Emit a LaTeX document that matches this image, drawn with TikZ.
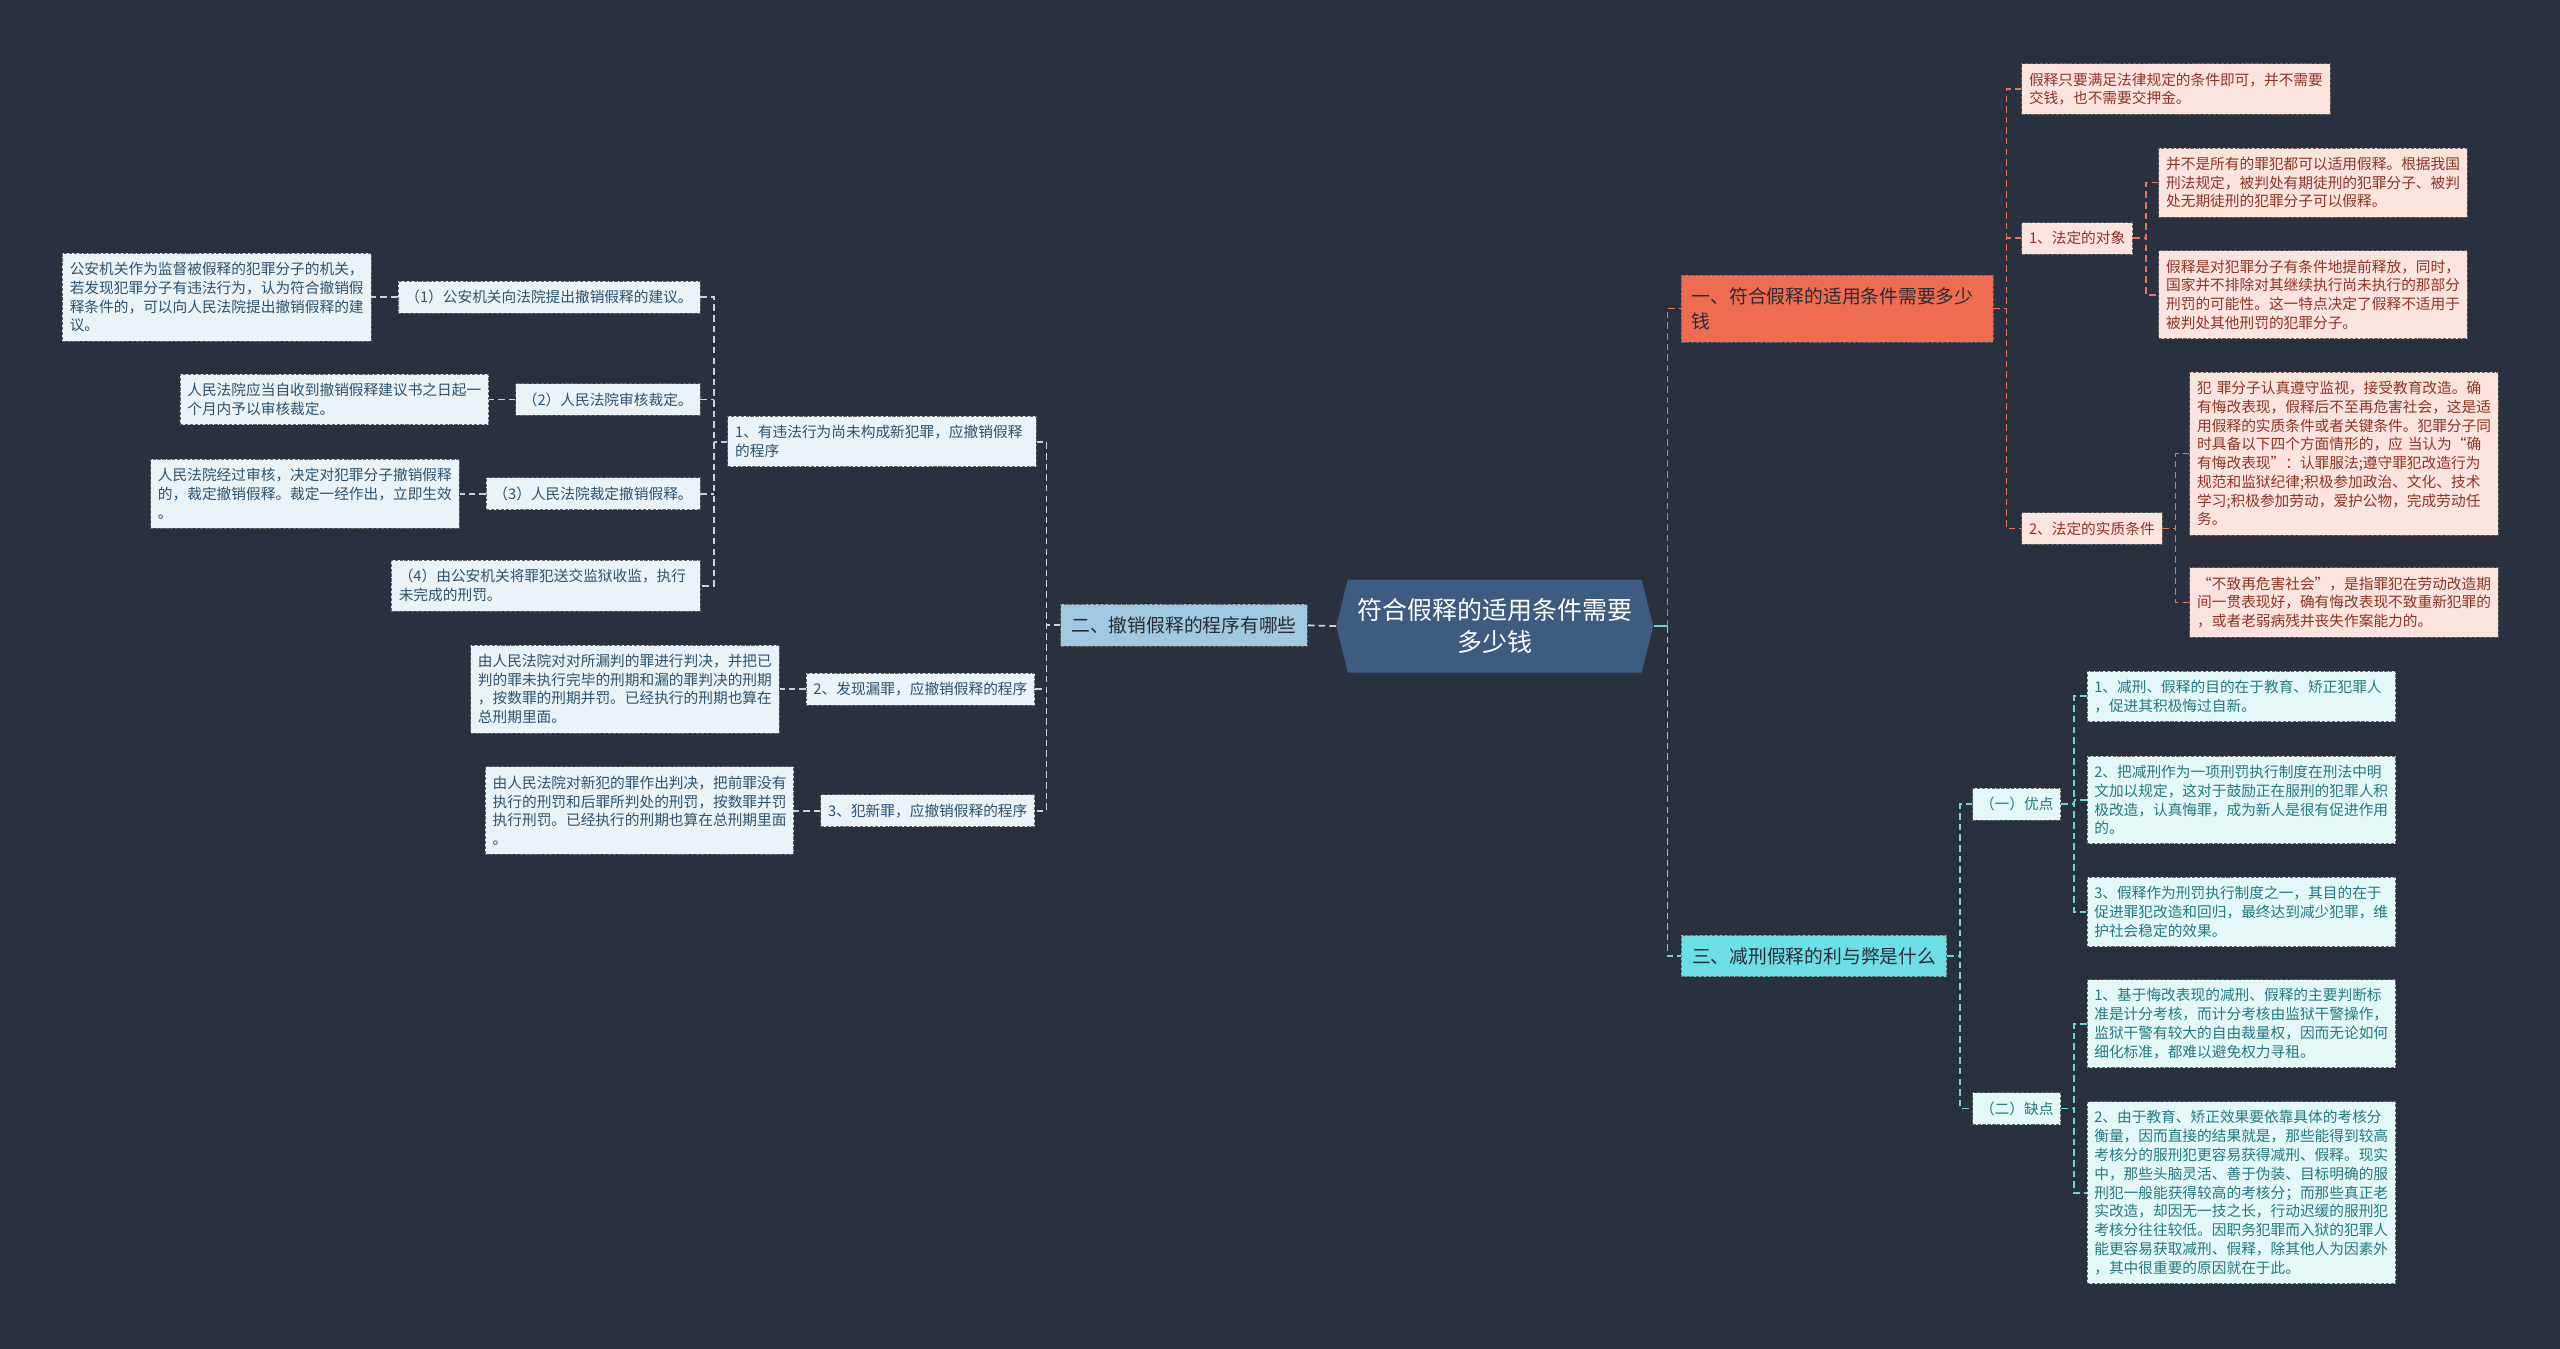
\documentclass[tikz,border=0pt]{standalone}
\usepackage{fontspec}
\setmainfont{Noto Sans CJK SC}
\usepackage{tikz}
\usetikzlibrary{positioning, shapes.symbols}

\definecolor{bgdark}{RGB}{41,49,63}
\definecolor{rootfill}{RGB}{62,91,128}
\definecolor{topO}{RGB}{238,108,82}
\definecolor{topB}{RGB}{160,200,225}
\definecolor{topC}{RGB}{108,222,228}
\definecolor{leafO}{RGB}{252,228,222}
\definecolor{leafB}{RGB}{234,243,248}
\definecolor{leafC}{RGB}{228,248,248}
\definecolor{textO}{RGB}{140,52,36}
\definecolor{textB}{RGB}{44,82,112}
\definecolor{textC}{RGB}{36,121,126}
\definecolor{textTop}{RGB}{40,44,52}
\definecolor{lnO}{RGB}{232,116,92}
\definecolor{lnB}{RGB}{196,212,226}
\definecolor{lnC}{RGB}{108,210,220}

\begin{document}
\begin{tikzpicture}[x=1pt, y=-1pt,
	box/.style={rectangle, draw=black!60, dash pattern=on 2pt off 1pt, line width=0.5pt, inner xsep=4.5pt, inner ysep=5.5pt, align=left, font=\fontsize{9}{11.5}\selectfont},
	para/.style={text width=180pt},
	leafo/.style={box, fill=leafO, text=textO},
	leafb/.style={box, fill=leafB, text=textB},
	leafc/.style={box, fill=leafC, text=textC},
	topbox/.style={box, inner xsep=6.5pt, inner ysep=7.5pt, text=textTop, font=\fontsize{11.5}{15.3}\selectfont},
	rootbox/.style={signal, signal to=west and east, signal pointer angle=152, fill=rootfill, text=white, align=center, text width=172pt, inner xsep=4pt, minimum height=57pt, font=\fontsize{15.3}{20}\selectfont},
	lineo/.style={draw=lnO, line width=1.1pt, dash pattern=on 4pt off 2.5pt},
	lineb/.style={draw=lnB, line width=1.1pt, dash pattern=on 4pt off 2.5pt},
	linec/.style={draw=lnC, line width=1.1pt, dash pattern=on 4pt off 2.5pt}]
				\useasboundingbox (0,0) rectangle (1568,826);
				\fill[bgdark] (0,0) rectangle (1568,826);

				\node[rootbox] (root) at (915.5,383.5) {符合假释的适用条件需要\\多少钱};

				\node[topbox, fill=topO, text width=178pt, anchor=west] (b1) at (1029.5,189) {一、符合假释的适用条件需要多少\\钱};
				\node[leafo, anchor=west] (b1a) at (1238,54.5) {假释只要满足法律规定的条件即可，并不需要\\交钱，也不需要交押金。};
				\node[leafo, anchor=west] (b1b) at (1238,146) {1、法定的对象};
				\node[leafo, anchor=west] (b1c) at (1238,323.7) {2、法定的实质条件};
				\node[leafo, para, anchor=west] (b1b1) at (1322,111.8) {并不是所有的罪犯都可以适用假释。根据我国\\刑法规定，被判处有期徒刑的犯罪分子、被判\\处无期徒刑的犯罪分子可以假释。};
				\node[leafo, para, anchor=west] (b1b2) at (1322,180.5) {假释是对犯罪分子有条件地提前释放，同时，\\国家并不排除对其继续执行尚未执行的那部分\\刑罚的可能性。这一特点决定了假释不适用于\\被判处其他刑罚的犯罪分子。};
				\node[leafo, para, anchor=west] (b1c1) at (1341,277.8) {犯 罪分子认真遵守监视，接受教育改造。确\\有悔改表现，假释后不至再危害社会，这是适\\用假释的实质条件或者关键条件。犯罪分子同\\时具备以下四个方面情形的，应 当认为“确\\有悔改表现”：认罪服法;遵守罪犯改造行为\\规范和监狱纪律;积极参加政治、文化、技术\\学习;积极参加劳动，爱护公物，完成劳动任\\务。};
				\node[leafo, para, anchor=west] (b1c2) at (1341,369) {“不致再危害社会”，是指罪犯在劳动改造期\\间一贯表现好，确有悔改表现不致重新犯罪的\\，或者老弱病残并丧失作案能力的。};

				\node[topbox, fill=topC, anchor=west] (b3) at (1029.6,585.5) {三、减刑假释的利与弊是什么};
				\node[leafc, anchor=west] (b3a) at (1208,492.5) {（一）优点};
				\node[leafc, anchor=west] (b3b) at (1208,679) {（二）缺点};
				\node[leafc, para, anchor=west] (b3a1) at (1278,426.5) {1、减刑、假释的目的在于教育、矫正犯罪人\\，促进其积极悔过自新。};
				\node[leafc, para, anchor=west] (b3a2) at (1278,490) {2、把减刑作为一项刑罚执行制度在刑法中明\\文加以规定，这对于鼓励正在服刑的犯罪人积\\极改造，认真悔罪，成为新人是很有促进作用\\的。};
				\node[leafc, para, anchor=west] (b3a3) at (1278,558.6) {3、假释作为刑罚执行制度之一，其目的在于\\促进罪犯改造和回归，最终达到减少犯罪，维\\护社会稳定的效果。};
				\node[leafc, para, anchor=west] (b3b1) at (1278,627) {1、基于悔改表现的减刑、假释的主要判断标\\准是计分考核，而计分考核由监狱干警操作，\\监狱干警有较大的自由裁量权，因而无论如何\\细化标准，都难以避免权力寻租。};
				\node[leafc, para, anchor=west] (b3b2) at (1278,730.5) {2、由于教育、矫正效果要依靠具体的考核分\\衡量，因而直接的结果就是，那些能得到较高\\考核分的服刑犯更容易获得减刑、假释。现实\\中，那些头脑灵活、善于伪装、目标明确的服\\刑犯一般能获得较高的考核分；而那些真正老\\实改造，却因无一技之长，行动迟缓的服刑犯\\考核分往往较低。因职务犯罪而入狱的犯罪人\\能更容易获取减刑、假释，除其他人为因素外\\，其中很重要的原因就在于此。};

				\node[topbox, fill=topB, anchor=east] (b2) at (801,383) {二、撤销假释的程序有哪些};
				\node[leafb, para, anchor=east] (b2a) at (635,270.5) {1、有违法行为尚未构成新犯罪，应撤销假释\\的程序};
				\node[leafb, anchor=east] (b2b) at (634,422) {2、发现漏罪，应撤销假释的程序};
				\node[leafb, anchor=east] (b2c) at (634,496.5) {3、犯新罪，应撤销假释的程序};
				\node[leafb, anchor=east] (b2a1) at (429,182) {（1）公安机关向法院提出撤销假释的建议。};
				\node[leafb, anchor=east] (b2a2) at (429,244.7) {（2）人民法院审核裁定。};
				\node[leafb, anchor=east] (b2a3) at (429,302.5) {（3）人民法院裁定撤销假释。};
				\node[leafb, para, anchor=east] (b2a4) at (429,358.7) {（4）由公安机关将罪犯送交监狱收监，执行\\未完成的刑罚。};
				\node[leafb, para, left=16pt of b2a1] (l1) {公安机关作为监督被假释的犯罪分子的机关，\\若发现犯罪分子有违法行为，认为符合撤销假\\释条件的，可以向人民法院提出撤销假释的建\\议。};
				\node[leafb, para, left=16pt of b2a2] (l2) {人民法院应当自收到撤销假释建议书之日起一\\个月内予以审核裁定。};
				\node[leafb, para, left=16pt of b2a3] (l3) {人民法院经过审核，决定对犯罪分子撤销假释\\的，裁定撤销假释。裁定一经作出，立即生效\\。};
				\node[leafb, para, left=16pt of b2b] (l5) {由人民法院对对所漏判的罪进行判决，并把已\\判的罪未执行完毕的刑期和漏的罪判决的刑期\\，按数罪的刑期并罚。已经执行的刑期也算在\\总刑期里面。};
				\node[leafb, para, left=16pt of b2c] (l6) {由人民法院对新犯的罪作出判决，把前罪没有\\执行的刑罚和后罪所判处的刑罚，按数罪并罚\\执行刑罚。已经执行的刑期也算在总刑期里面\\。};

				\draw[draw=lnC, line width=1.1pt] (root.east) -- ++(8.5,0) coordinate (j0);
				\draw[lineo] (j0) |- (b1.west);
				\draw[linec] (j0) |- (b3.west);
				\draw[lineb] (root.west) -- (b2.east);

				\draw[lineo] (b1.east) -- ++(8,0) coordinate (j1);
				\draw[lineo] (b1a.west) -| (j1) |- (b1c.west);
				\draw[lineo] (b1b.west) -- (b1b.west -| j1);
				\draw[lineo] (b1b.east) -- ++(8,0) coordinate (j1b);
				\draw[lineo] (b1b1.west) -| (j1b) |- (b1b2.west);
				\draw[lineo] (b1c.east) -- ++(8,0) coordinate (j1c);
				\draw[lineo] (b1c1.west) -| (j1c) |- (b1c2.west);

				\draw[linec] (b3.east) -- ++(8,0) coordinate (j3);
				\draw[linec] (b3a.west) -| (j3) |- (b3b.west);
				\draw[linec] (b3a.east) -- ++(8,0) coordinate (j3a);
				\draw[linec] (b3a1.west) -| (j3a) |- (b3a3.west);
				\draw[linec] (b3a2.west) -- (b3a2.west -| j3a);
				\draw[linec] (b3b.east) -- ++(8,0) coordinate (j3b);
				\draw[linec] (b3b1.west) -| (j3b) |- (b3b2.west);

				\draw[lineb] (b2.west) -- ++(-8.5,0) coordinate (j2);
				\draw[lineb] (b2a.east) -| (j2) |- (b2c.east);
				\draw[lineb] (b2b.east) -- (b2b.east -| j2);
				\draw[lineb] (b2a.west) -- ++(-8,0) coordinate (j2a);
				\draw[lineb] (b2a1.east) -| (j2a) |- (b2a4.east);
				\draw[lineb] (b2a2.east) -- (b2a2.east -| j2a);
				\draw[lineb] (b2a3.east) -- (b2a3.east -| j2a);
				\draw[lineb] (b2a1.west) -- (l1.east);
				\draw[lineb] (b2a2.west) -- (l2.east);
				\draw[lineb] (b2a3.west) -- (l3.east);
				\draw[lineb] (b2b.west) -- (l5.east);
				\draw[lineb] (b2c.west) -- (l6.east);
			\end{tikzpicture}
\end{document}
